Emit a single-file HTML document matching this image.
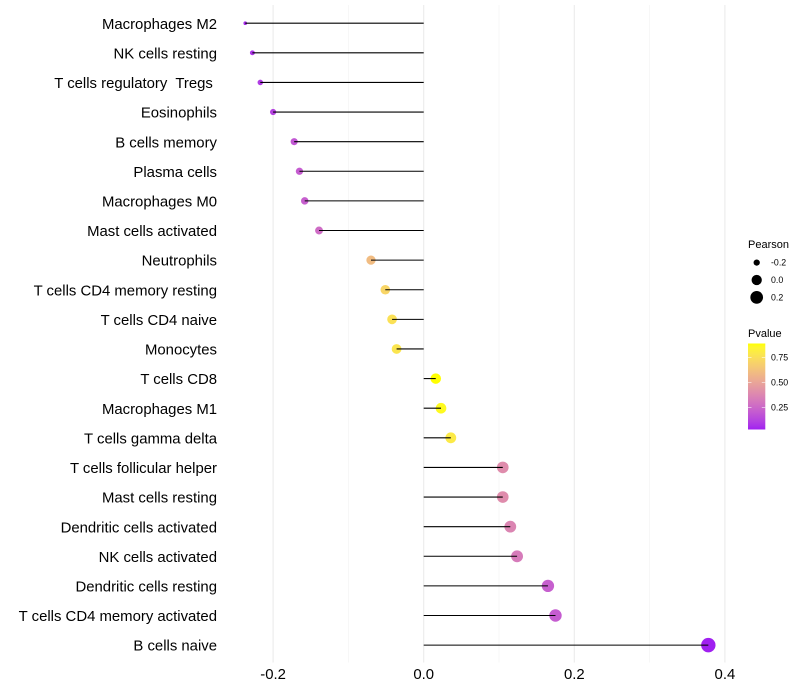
<!DOCTYPE html>
<html>
<head>
<meta charset="utf-8">
<title>Immune cell correlation lollipop chart</title>
<style>
html,body{margin:0;padding:0;background:#fff;}
svg{display:block;font-family:"Liberation Sans",Arial,sans-serif;}
</style>
</head>
<body>
<svg id="chart" width="800" height="700" viewBox="0 0 800 700" xmlns="http://www.w3.org/2000/svg">
<defs><linearGradient id="pvalue-gradient" x1="0" y1="1" x2="0" y2="0"></linearGradient></defs>
</svg>
<script>
var categories = ["Macrophages M2","NK cells resting","T cells regulatory  Tregs ","Eosinophils","B cells memory","Plasma cells","Macrophages M0","Mast cells activated","Neutrophils","T cells CD4 memory resting","T cells CD4 naive","Monocytes","T cells CD8","Macrophages M1","T cells gamma delta","T cells follicular helper","Mast cells resting","Dendritic cells activated","NK cells activated","Dendritic cells resting","T cells CD4 memory activated","B cells naive"];
var pearson = [-0.237,-0.2275,-0.217,-0.2,-0.172,-0.165,-0.158,-0.139,-0.07,-0.051,-0.042,-0.036,0.016,0.023,0.036,0.105,0.105,0.115,0.124,0.165,0.175,0.378];
var pvalues = [0.06,0.08,0.1,0.12,0.19,0.21,0.22,0.27,0.6,0.71,0.76,0.78,0.89,0.87,0.8,0.4,0.4,0.37,0.33,0.22,0.21,0.03];
var xTicks = [-0.2,0,0.2,0.4];
var xTickLabels = ["-0.2","0.0","0.2","0.4"];
var xMinorTicks = [-0.1,0.1,0.3];
var sizeLegendValues = [-0.2,0,0.2];
var sizeLegendLabels = ["-0.2","0.0","0.2"];
var colorLegendValues = [0.25,0.5,0.75];
var colorLegendLabels = ["0.25","0.50","0.75"];

var svg = document.getElementById('chart');
var NS = 'http://www.w3.org/2000/svg';
function make(tag, attrs, parent, txt){
  var el = document.createElementNS(NS, tag);
  for (var k in attrs) el.setAttribute(k, attrs[k]);
  if (txt !== undefined) el.textContent = txt;
  (parent || svg).appendChild(el);
  return el;
}
function xScale(v){ return 423.7 + v * 753; }
function yScale(i){ return 23.2 + i * 29.615 * 21 / (categories.length - 1); }
var pMin = Math.min.apply(null, pvalues), pMax = Math.max.apply(null, pvalues);
var rMin = Math.min.apply(null, pearson), rMax = Math.max.apply(null, pearson);
function rScale(v){ return 1.8 + 5.4 * Math.sqrt(Math.max(0, (v - rMin) / (rMax - rMin))); }
function toLab(c){
  var l = c.map(function(v){ v /= 255; return v > 0.04045 ? Math.pow((v + 0.055) / 1.055, 2.4) : v / 12.92; });
  var X = (0.4124 * l[0] + 0.3576 * l[1] + 0.1805 * l[2]) / 0.95047;
  var Y = 0.2126 * l[0] + 0.7152 * l[1] + 0.0722 * l[2];
  var Z = (0.0193 * l[0] + 0.1192 * l[1] + 0.9505 * l[2]) / 1.08883;
  var f = function(t){ return t > 0.008856 ? Math.cbrt(t) : 7.787 * t + 16 / 116; };
  return [116 * f(Y) - 16, 500 * (f(X) - f(Y)), 200 * (f(Y) - f(Z))];
}
function fromLab(L){
  var fy = (L[0] + 16) / 116, fx = L[1] / 500 + fy, fz = fy - L[2] / 200;
  var g = function(t){ return t * t * t > 0.008856 ? t * t * t : (t - 16 / 116) / 7.787; };
  var X = g(fx) * 0.95047, Y = g(fy), Z = g(fz) * 1.08883;
  var rgb = [3.2406 * X - 1.5372 * Y - 0.4986 * Z, -0.9689 * X + 1.8758 * Y + 0.0415 * Z, 0.0557 * X - 0.204 * Y + 1.057 * Z];
  return 'rgb(' + rgb.map(function(v){
    v = Math.max(0, Math.min(1, v));
    v = v > 0.0031308 ? 1.055 * Math.pow(v, 1 / 2.4) - 0.055 : 12.92 * v;
    return Math.round(v * 255);
  }).join(',') + ')';
}
var labLow = toLab([160, 32, 240]), labHigh = toLab([255, 255, 0]);
function colorAt(t){ return fromLab(labLow.map(function(a, i){ return a + (labHigh[i] - a) * t; })); }
function colorScale(p){ return colorAt((p - pMin) / (pMax - pMin)); }

var grid = make('g', {});


xMinorTicks.forEach(function(v){
  var ln = make('line', {x1: xScale(v), x2: xScale(v), y1: 5, y2: 662.5, stroke: '#f0f0f0', 'stroke-width': 0.55}, grid);
  
  
});
xTicks.forEach(function(v){
  var ln = make('line', {x1: xScale(v), x2: xScale(v), y1: 5, y2: 662.5, stroke: '#ebebeb', 'stroke-width': 1.07}, grid);
  
  
});

categories.forEach(function(name, i){
  var lab = make('text', {x: 217, y: yScale(i) + 5.6, 'text-anchor': 'end', 'font-size': 14.9, fill: '#000', 'xml:space': 'preserve', style: 'white-space:pre'}, svg, name);
  
  
});

categories.forEach(function(name, i){
  var pt = make('circle', {cx: xScale(pearson[i]), cy: yScale(i), r: rScale(pearson[i]), fill: colorScale(pvalues[i])});
  
  
});
categories.forEach(function(name, i){
  var st = make('line', {x1: xScale(0), x2: xScale(pearson[i]), y1: yScale(i), y2: yScale(i), stroke: '#000', 'stroke-width': 1.07});
  
  
});

xTicks.forEach(function(v, i){
  var t = make('text', {x: xScale(v), y: 679, 'text-anchor': 'middle', 'font-size': 14.9, fill: '#000'}, svg, xTickLabels[i]);
  
  
});

var sizeTitle = make('text', {x: 748, y: 248, 'font-size': 11, fill: '#000'}, svg, 'Pearson');


sizeLegendValues.forEach(function(v, i){
  var y = 262.6 + i * 17.4;
  var key = make('circle', {cx: 756.7, cy: y, r: rScale(v), fill: '#000'});
  
  
  var t = make('text', {x: 771, y: y + 3.1, 'font-size': 8.8, fill: '#000'}, svg, sizeLegendLabels[i]);
  
  
});

var colorTitle = make('text', {x: 748, y: 337, 'font-size': 11, fill: '#000'}, svg, 'Pvalue');


var grad = document.getElementById('pvalue-gradient');
for (var s = 0; s <= 24; s++) {
  make('stop', {offset: (s / 24 * 100) + '%', 'stop-color': colorAt(s / 24)}, grad);
}
var barTop = 343.5, barBottom = 429.5;
function legendY(p){ return barBottom - (p - pMin) / (pMax - pMin) * (barBottom - barTop); }
var bar = make('rect', {x: 748, y: barTop, width: 17.3, height: barBottom - barTop, fill: 'url(#pvalue-gradient)'});


colorLegendValues.forEach(function(p, i){
  var y = legendY(p);
  var a = make('line', {x1: 748, x2: 751.5, y1: y, y2: y, stroke: '#fff', 'stroke-width': 0.55});
  
  
  var b = make('line', {x1: 761.8, x2: 765.3, y1: y, y2: y, stroke: '#fff', 'stroke-width': 0.55});
  
  
  var t = make('text', {x: 771, y: y + 3.1, 'font-size': 8.8, fill: '#000'}, svg, colorLegendLabels[i]);
  
  
});
</script>
</body>
</html>
